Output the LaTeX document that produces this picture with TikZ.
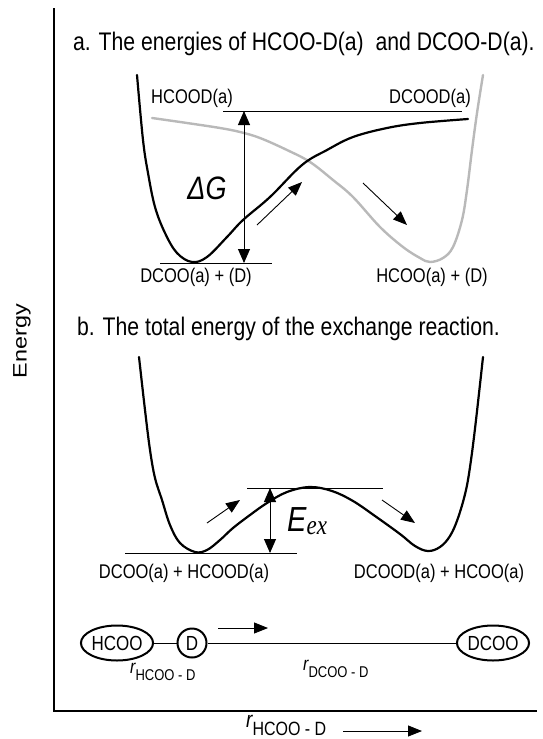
\documentclass[tikz,border=0pt]{standalone}
\usepackage{fontspec}
\setmainfont{Liberation Sans}
\newfontfamily\serifit{Liberation Serif}
\usetikzlibrary{arrows.meta,shapes.geometric}
\begin{document}
\begin{tikzpicture}[x=1pt,y=-1pt,
  txt/.style={font=\fontsize{16.5}{18}\selectfont, yscale=1.2, inner sep=0pt},
  ttl/.style={font=\fontsize{21.2}{24}\selectfont, yscale=1.2, inner sep=0pt, anchor=west},
  curve/.style={line width=2.2pt, line join=round, line cap=round},
  grayc/.style={line width=2.4pt, gray!55, line join=round, line cap=round},
  lvl/.style={line width=0.9pt},
  arr/.style={line width=0.9pt, -{Triangle[length=14pt,width=11pt]}},
  darr/.style={line width=0.9pt, {Triangle[length=14pt,width=12pt]}-{Triangle[length=14pt,width=12pt]}},
  mol/.style={draw, line width=2pt, inner sep=0pt, font=\fontsize{17}{18}\selectfont},
  rlab/.style={anchor=base west, inner sep=0pt, yscale=1.2}
]
\useasboundingbox (0,0) rectangle (542,739);

% axes
\coordinate (ytop) at (54,8);
\coordinate (orig) at (54,711);
\coordinate (xend) at (537,711);
\draw[line width=2pt] (ytop) -- (orig) -- (xend);
\node[font=\fontsize{19.5}{20}\selectfont, yscale=1.2, rotate=90, inner sep=0pt] (en) at (22,341) {Energy};

% titles
\node[ttl] (ta) at (73,44) {a. The energies of HCOO-D(a)\ \ and DCOO-D(a).};
\node[ttl] (tb) at (77,329) {b. The total energy of the exchange reaction.};

% ---------- panel a ----------
\draw[grayc] plot[smooth, tension=0.6] coordinates {(152,118) (187,123) (220,128) (240,132) (260,138) (287,150) (310,162) (333,180) (353,197) (380,227) (403,247) (420,258) (430,262) (443,258) (453,247) (462,220) (467,190) (472,150) (477,113) (483,75)};
\draw[curve] plot[smooth, tension=0.6] coordinates {(137,75) (143,140) (148,173) (155,207) (165,233) (177,253) (192,262) (207,257) (227,237) (243,220) (270,197) (302,165) (327,150) (353,137) (387,128) (420,123) (468,119)};

\coordinate (la1) at (223,111); \coordinate (la2) at (462,111);
\coordinate (lb1) at (160,263); \coordinate (lb2) at (272,263);
\draw[lvl] (la1) -- (la2);
\draw[lvl] (lb1) -- (lb2);
\coordinate (dgt) at (244,111); \coordinate (dgb) at (244,263);
\draw[darr] (dgt) -- (dgb);
\node[font=\fontsize{27}{28}\selectfont\itshape, yscale=1.2, inner sep=0pt] (dg) at (207,188) {ΔG};

\coordinate (a1s) at (257,225); \coordinate (a1e) at (302,182);
\coordinate (a2s) at (363,183); \coordinate (a2e) at (407,225);
\draw[arr] (a1s) -- (a1e);
\draw[arr] (a2s) -- (a2e);

\node[txt] (hcood) at (192,98) {HCOOD(a)};
\node[txt] (dcood) at (430,98) {DCOOD(a)};
\node[txt] (dcoo1) at (196,277) {DCOO(a) + (D)};
\node[txt] (hcoo1) at (432,277) {HCOO(a) + (D)};

% ---------- panel b ----------
\draw[curve] plot[smooth, tension=0.6] coordinates {(139,357) (145,410) (150,450) (155,478) (162,500) (170,525) (180,543) (195,552) (207,550) (220,540) (233,528) (250,515) (267,503) (287,492) (310,487) (332,491) (353,501) (375,516) (400,534) (415,546) (428,551) (440,547) (450,536) (458,518) (466,490) (471,460) (476,420) (483,357)};

\coordinate (lc1) at (247,488); \coordinate (lc2) at (383,488);
\coordinate (ld1) at (125,553); \coordinate (ld2) at (297,553);
\draw[lvl] (lc1) -- (lc2);
\draw[lvl] (ld1) -- (ld2);
\coordinate (ext) at (270,488); \coordinate (exb) at (270,553);
\draw[darr] (ext) -- (exb);
\node[anchor=base west, inner sep=0pt, yscale=1.2] (eex) at (287,531) {{\fontsize{29}{30}\selectfont\itshape E}{\fontsize{23}{24}\selectfont\serifit\itshape\raisebox{-3pt}{ex}}};

\coordinate (b1s) at (207,523); \coordinate (b1e) at (240,500);
\coordinate (b2s) at (382,500); \coordinate (b2e) at (415,523);
\draw[arr] (b1s) -- (b1e);
\draw[arr] (b2s) -- (b2e);

\node[txt] (lb) at (184,573) {DCOO(a) + HCOOD(a)};
\node[txt] (rb) at (439,573) {DCOOD(a) + HCOO(a)};

% ---------- molecules ----------
\node[mol, ellipse, minimum width=70pt, minimum height=35pt] (h) at (117,643) {\scalebox{1}[1.2]{HCOO}};
\node[mol, circle, minimum size=29pt] (d) at (192,643) {\scalebox{1}[1.2]{D}};
\node[mol, ellipse, minimum width=70pt, minimum height=35pt] (dc) at (493,643) {\scalebox{1}[1.2]{DCOO}};
\draw[line width=0.9pt] (h) -- (d);
\draw[line width=0.9pt] (d) -- (dc);
\coordinate (m1) at (218,628); \coordinate (m2) at (268,628);
\draw[arr] (m1) -- (m2);

\node[rlab] (r1) at (130,673) {{\fontsize{16}{16}\selectfont\itshape r}\raisebox{-6pt}{\fontsize{13}{13}\selectfont HCOO - D}};
\node[rlab] (r2) at (303,670) {{\fontsize{16}{16}\selectfont\itshape r}\raisebox{-6pt}{\fontsize{13}{13}\selectfont DCOO - D}};

% x-axis label
\node[rlab] (rx) at (246,727) {{\fontsize{19}{19}\selectfont\itshape r}\raisebox{-7pt}{\fontsize{16}{16}\selectfont HCOO - D}};
\coordinate (x1) at (343,731); \coordinate (x2) at (422,731);
\draw[arr] (x1) -- (x2);
\end{tikzpicture}
\end{document}
